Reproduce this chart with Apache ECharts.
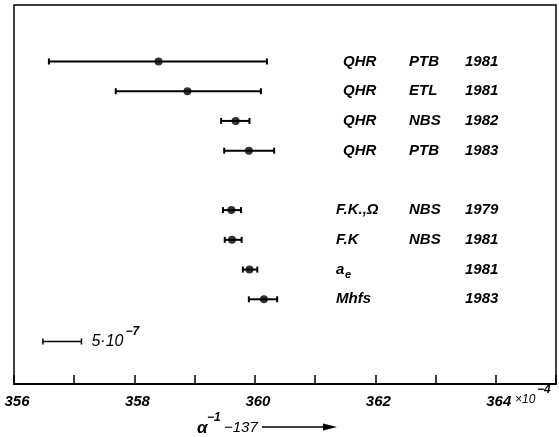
<!DOCTYPE html>
<html>
<head>
<meta charset="utf-8">
<script src="https://cdn.jsdelivr.net/npm/echarts@6/dist/echarts.min.js"></script>
<style>
  html, body { margin: 0; padding: 0; background: #fff; }
  #chart { width: 559px; height: 437px; }
</style>
</head>
<body>
<div id="chart"></div>
<script>
// rows counted from top, gap after the 4th (QHR) row
const rowPos = [1, 2, 3, 4, 6, 7, 8, 9]
const centers = [358.40, 358.88, 359.68, 359.90, 359.61, 359.62, 359.91, 360.15]
const lows = [356.58, 357.69, 359.44, 359.49, 359.47, 359.50, 359.80, 359.90]
const highs = [360.20, 360.10, 359.91, 360.32, 359.77, 359.78, 360.04, 360.37]
const methods = ['QHR', 'QHR', 'QHR', 'QHR', 'F.K.,Ω', 'F.K', 'a_e', 'Mhfs']
const labs = ['PTB', 'ETL', 'NBS', 'PTB', 'NBS', 'NBS', '', '']
const years = ['1981', '1981', '1982', '1983', '1979', '1981', '1981', '1983']
const xTickLabels = [356, 358, 360, 362, 364]
// scale bar "5·10^-7"
const scaleBar = [356.48, 357.12]
const scaleRow = 10.42

const font = 'Liberation Sans'

function t(text, x, y, size, extra) {
  return {
    type: 'text', x: x, y: y,
    style: Object.assign({
      text: text,
      fontFamily: font,
      fontStyle: 'italic',
      fontWeight: 'bold',
      fontSize: size,
      fill: '#000',
      verticalAlign: 'middle'
    }, extra || {})
  }
}

const chart = echarts.init(document.getElementById('chart'), null, { renderer: 'canvas' })

function errBar(api, lo, hi, row, w) {
  const p1 = api.coord([lo, row])
  const p2 = api.coord([hi, row])
  const ls = { stroke: '#000', lineWidth: w }
  return [
    { type: 'line', shape: { x1: p1[0], y1: p1[1], x2: p2[0], y2: p2[1] }, style: ls },
    { type: 'line', shape: { x1: p1[0], y1: p1[1] - 3, x2: p1[0], y2: p1[1] + 3 }, style: ls },
    { type: 'line', shape: { x1: p2[0], y1: p2[1] - 3, x2: p2[0], y2: p2[1] + 3 }, style: ls }
  ]
}

const barData = rowPos.map((r, i) => [r, lows[i], centers[i], highs[i], i])

chart.setOption({
  animation: false,
  backgroundColor: '#fff',
  grid: {
    left: 14,
    right: 3,
    top: 5,
    bottom: 53,
    show: true,
    borderColor: '#000',
    borderWidth: 1.5
  },
  xAxis: {
    type: 'value',
    position: 'bottom',
    min: 356,
    max: 365,
    interval: 1,
    splitLine: { show: false },
    axisLine: { onZero: false, lineStyle: { color: '#000', width: 2 } },
    axisTick: { inside: true, length: 9, lineStyle: { color: '#000', width: 1.5 } },
    axisLabel: {
      color: '#000',
      fontFamily: font,
      fontStyle: 'italic',
      fontWeight: 'bold',
      fontSize: 15,
      margin: 10,
      padding: [0, 0, 0, 6],
      formatter: v => (xTickLabels.indexOf(v) >= 0 ? String(v) : '')
    }
  },
  yAxis: {
    type: 'value',
    inverse: true,
    min: -0.9,
    max: 11.85,
    show: false
  },
  series: [
    {
      type: 'custom',
      data: barData,
      encode: { x: [1, 2, 3], y: 0 },
      renderItem(params, api) {
        const i = api.value(4)
        const row = api.value(0)
        const kids = errBar(api, api.value(1), api.value(3), row, 2)
        const y = api.coord([centers[i], row])[1]
        if (methods[i] === 'a_e') {
          kids.push(t('a', 336, y, 15))
          kids.push(t('e', 345, y + 5, 11))
        } else {
          kids.push(t(methods[i], methods[i] === 'QHR' ? 343 : 336, y, 15))
        }
        kids.push(t(labs[i], 409, y, 15))
        kids.push(t(years[i], 465, y, 15))
        return { type: 'group', children: kids }
      },
      z: 2
    },
    {
      type: 'scatter',
      data: rowPos.map((r, i) => [centers[i], r]),
      symbol: 'circle',
      symbolSize: 8,
      itemStyle: { color: '#000' },
      z: 3
    },
    {
      type: 'custom',
      data: [[scaleRow, scaleBar[0], scaleBar[1]]],
      encode: { x: [1, 2], y: 0 },
      renderItem(params, api) {
        const row = api.value(0)
        const kids = errBar(api, api.value(1), api.value(2), row, 1.5)
        const p2 = api.coord([api.value(2), row])
        kids.push(t('5·10', p2[0] + 10, p2[1], 16, { fontWeight: 'normal' }))
        kids.push(t('−7', p2[0] + 44, p2[1] - 10, 12))
        return { type: 'group', children: kids }
      }
    }
  ],
  graphic: [
    t('×10', 515, 400, 12, { fontWeight: 'normal' }),
    t('−4', 537, 390, 12),
    t('α', 197, 428, 17),
    t('−1', 207, 418, 12),
    t('−137', 224, 428, 15, { fontWeight: 'normal' }),
    {
      type: 'line',
      shape: { x1: 262, y1: 427, x2: 328, y2: 427 },
      style: { stroke: '#000', lineWidth: 1.5 }
    },
    {
      type: 'polygon',
      shape: { points: [[323, 423.5], [337, 427], [323, 430.5]] },
      style: { fill: '#000' }
    }
  ]
})
</script>
</body>
</html>
